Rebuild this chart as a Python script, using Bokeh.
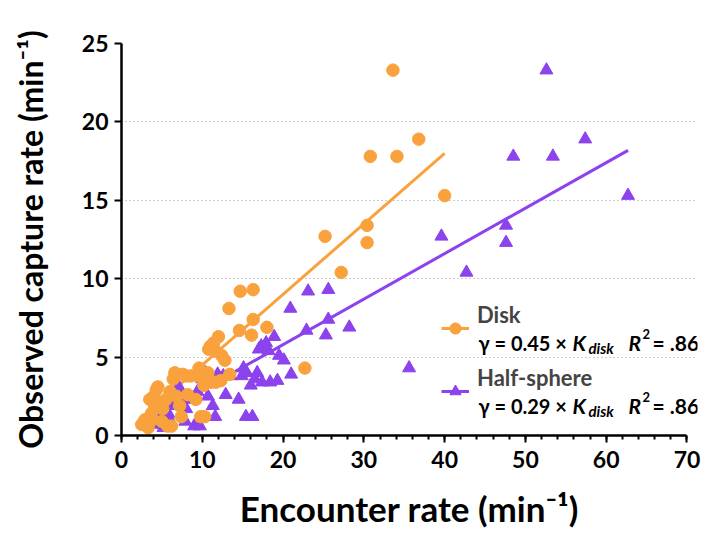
from bokeh.plotting import figure
from bokeh.models import (Range1d, SingleIntervalTicker, Legend, LegendItem, Label)
from bokeh.embed import file_html
from bokeh.resources import INLINE

# ---- data ----
disk_x = [33.6, 30.8, 34.1, 36.8, 40.0, 30.4, 30.4, 25.2, 27.2, 22.7,
          14.7, 16.3, 13.3, 16.3, 14.6, 16.1, 18.0, 12.0, 11.0, 11.4,
          10.8, 12.4, 12.8, 11.6, 13.4, 9.2, 9.8, 10.3, 2.5, 3.3,
          2.9, 3.7, 3.5, 4.0, 4.5, 4.3, 4.1, 5.7, 6.2, 5.1,
          5.5, 6.0, 6.6, 6.4, 7.2, 7.4, 6.8, 7.6, 8.0, 8.6,
          9.5, 9.9, 10.7, 10.5, 11.1, 11.7, 3.8, 5.0, 4.8, 8.2,
          10.2, 12.3, 9.6]
disk_y = [23.3, 17.8, 17.8, 18.9, 15.3, 13.4, 12.3, 12.7, 10.4, 4.3,
          9.2, 9.3, 8.1, 7.4, 6.7, 6.4, 6.9, 6.3, 5.7, 5.9,
          5.5, 5.1, 4.8, 5.4, 3.9, 2.3, 1.2, 1.2, 0.7, 0.5,
          1.0, 1.4, 2.3, 2.5, 3.1, 2.9, 1.9, 0.6, 0.6, 1.7,
          2.3, 2.8, 4.0, 3.6, 1.9, 1.2, 2.5, 3.9, 3.8, 3.8,
          3.8, 4.0, 4.0, 3.6, 3.4, 3.4, 1.0, 0.9, 2.0, 2.6,
          3.2, 3.5, 4.3]

half_x = [52.6, 48.5, 53.4, 57.4, 62.7, 47.6, 47.6, 39.6, 42.7, 35.6,
          23.1, 25.6, 20.9, 25.6, 22.9, 25.3, 28.2, 18.9, 17.3, 17.9,
          17.0, 19.5, 20.1, 18.2, 21.0, 14.5, 15.4, 16.2, 3.9, 5.2,
          4.6, 5.8, 5.5, 6.3, 7.1, 6.8, 6.4, 9.0, 9.7, 8.0,
          8.6, 9.4, 10.4, 10.0, 11.3, 11.6, 10.7, 11.9, 12.6, 13.5,
          14.9, 15.5, 16.8, 16.5, 17.4, 18.4, 6.0, 7.9, 7.5, 12.9,
          16.0, 19.3, 15.1]
half_y = list(disk_y)

disk_slope = 0.45
half_slope = 0.29
r2_text = ".86"

x_ticks_interval = 10
y_ticks_interval = 5

ORANGE = "#F9A23D"
PURPLE = "#8C42EC"
FONT = "Lato"

p = figure(width=712, height=544, output_backend="svg", toolbar_location=None,
           x_range=Range1d(0, 71.3), y_range=Range1d(0, 25),
           min_border_left=121, min_border_right=15, min_border_top=43,
           min_border_bottom=109)
p.outline_line_color = None
p.background_fill_color = "white"
p.border_fill_color = "white"

# regression lines (from fitted slopes over the data range)
dx0, dx1 = min(disk_x), max(disk_x)
hx0, hx1 = min(half_x), max(half_x)
l1 = p.line([dx0, dx1], [disk_slope * dx0, disk_slope * dx1], line_color=ORANGE, line_width=3)
l2 = p.line([hx0, hx1], [half_slope * hx0, half_slope * hx1], line_color=PURPLE, line_width=3)

s2 = p.scatter(half_x, half_y, marker="triangle", size=13, fill_color=PURPLE, line_color=PURPLE)
s1 = p.scatter(disk_x, disk_y, marker="circle", size=12.5, fill_color=ORANGE, line_color=ORANGE)

# axes
xa = p.xaxis[0]
ya = p.yaxis[0]
xa.ticker = SingleIntervalTicker(interval=x_ticks_interval, num_minor_ticks=5)
ya.ticker = SingleIntervalTicker(interval=y_ticks_interval, num_minor_ticks=0)
xa.bounds = (0, 70)
for ax in (xa, ya):
    ax.axis_line_width = 2.5
    ax.axis_line_color = "black"
    ax.major_tick_line_width = 2
    ax.minor_tick_line_width = 2
    ax.major_tick_in = 0
    ax.major_tick_out = 7
    ax.minor_tick_in = 0
    ax.minor_tick_out = 4
    ax.major_label_text_font = FONT
    ax.major_label_text_font_style = "bold"
    ax.major_label_text_font_size = "23px"
    ax.major_label_text_color = "black"
    ax.axis_label_text_font = FONT
    ax.axis_label_text_font_style = "bold"
    ax.axis_label_text_color = "black"
xa.axis_label_text_font_size = "35px"
ya.axis_label_text_font_size = "32px"
ya.minor_tick_out = 0
xa.axis_label = "Encounter rate (min\u207b\u00b9)"
ya.axis_label = "Observed capture rate (min\u207b\u00b9)"
xa.axis_label_standoff = 16
ya.axis_label_standoff = 29
xa.major_label_standoff = 8
ya.major_label_standoff = 6

p.xgrid.grid_line_color = None
p.ygrid.grid_line_color = "#9a9a9a"
p.ygrid.grid_line_dash = "1 3"
p.ygrid.grid_line_width = 1
p.ygrid.ticker = SingleIntervalTicker(interval=y_ticks_interval)

# legend
legend = Legend(items=[LegendItem(label="Disk\n ", renderers=[l1, s1]),
                       LegendItem(label="Half-sphere\n ", renderers=[l2, s2])],
                location=(320, 15), orientation="vertical",
                glyph_width=28, glyph_height=58, label_height=20,
                spacing=5, padding=0, margin=0, label_standoff=8,
                border_line_alpha=0, background_fill_alpha=0,
                label_text_font=FONT, label_text_font_style="bold",
                label_text_font_size="22px", label_text_line_height=1.45)
p.add_layout(legend, "center")


def px2x(px):
    return (px - 121.5) / 8.07


def py2y(py):
    return (435 - py) / 15.68


def eq_labels(slope, base_py):
    parts = [
        (478, base_py, "\u03b3 = %.2f \u00d7" % slope, "bold", "20px"),
        (572, base_py, "K", "bold italic", "21px"),
        (588, base_py + 5, "disk", "bold italic", "15px"),
        (628, base_py, "R", "bold italic", "21px"),
        (642, base_py - 9, "2", "bold", "13px"),
        (652, base_py, "= " + r2_text, "bold", "21px"),
    ]
    for px, py, txt, style, size in parts:
        p.add_layout(Label(x=px2x(px), y=py2y(py), text=txt, text_font=FONT,
                           text_font_style=style, text_font_size=size,
                           text_color="black", text_baseline="alphabetic"))


eq_labels(disk_slope, 342)
eq_labels(half_slope, 405)

open("out.html", "w").write(file_html(p, INLINE))
